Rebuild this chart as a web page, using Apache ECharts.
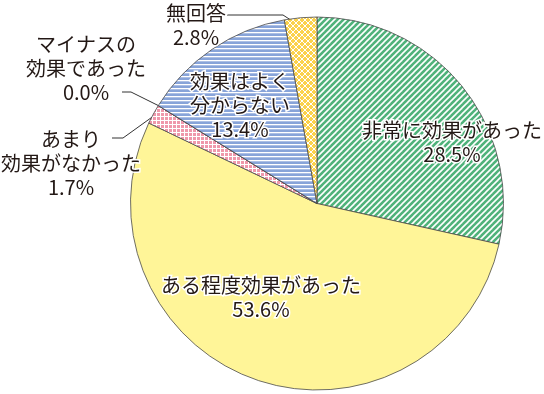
<!DOCTYPE html>
<html><head><meta charset="utf-8">
<script src="https://cdn.jsdelivr.net/npm/echarts@6/dist/echarts.min.js"></script>
<style>html,body{margin:0;padding:0;background:#fff}#c{width:544px;height:394px}</style>
</head><body><div id="c"></div>
<script>
const categories = ['非常に効果があった','ある程度効果があった','あまり\n効果がなかった','マイナスの\n効果であった','効果はよく\n分からない','無回答'];
const values = [28.5, 53.6, 1.7, 0.0, 13.4, 2.8];

// layout (pixels)
const CX = 317, CY = 203.5, R = 186.5;
const labelPos = [[452,142],[261,297],[71,163],[86,68.5],[240,105],[196,25]];
const leader = [null, null, {elbow:[123,138], end:[112,138], rf:0.99}, {elbow:[131,92], end:[122,92], rf:1.0}, null, {elbow:[283,15], end:[227,15], rf:0.95}];

function tile(w,h,draw){const c=document.createElement('canvas');c.width=w;c.height=h;const g=c.getContext('2d');draw(g,w,h);return c;}
const pGreen = tile(6,6,(g,w,h)=>{g.fillStyle='#4fb27a';g.fillRect(0,0,w,h);g.strokeStyle='#fff';g.lineWidth=1.6;
  [[-6,0],[0,0],[6,0]].forEach(([ox])=>{g.beginPath();g.moveTo(ox-1,h+1);g.lineTo(ox+w+1,-1);g.stroke();});});
const pBlue = tile(4,4,(g,w,h)=>{g.fillStyle='#88a4d9';g.fillRect(0,0,w,h);g.fillStyle='#fff';g.fillRect(0,0,w,1.3);});
const pPink = tile(4,4,(g,w,h)=>{g.fillStyle='#ef98ab';g.fillRect(0,0,w,h);g.fillStyle='#fff';g.fillRect(0,0,w,1);g.fillRect(0,0,1,h);});
const pGold = tile(6,6,(g,w,h)=>{g.fillStyle='#fff';g.fillRect(0,0,w,h);g.fillStyle='#fbd24c';
  const plus=(cx,cy)=>{[-6,0,6].forEach(ox=>[-6,0,6].forEach(oy=>{g.fillRect(cx-2+ox,cy-1+oy,4,2);g.fillRect(cx-1+ox,cy-2+oy,2,4);}));};
  plus(2,2);plus(5,5);});
const fills = [{image:pGreen,repeat:'repeat'}, '#fff598', {image:pPink,repeat:'repeat'}, {image:pPink,repeat:'repeat'}, {image:pBlue,repeat:'repeat'}, {image:pGold,repeat:'repeat'}];

const total = values.reduce((a,b)=>a+b,0);
const midFrac = []; let acc=0;
values.forEach(v=>{midFrac.push((acc+v/2)/total); acc+=v;});

const data = categories.map((n,i)=>({
  name:n, value:values[i],
  itemStyle:{color:fills[i]},
  labelLine:{show: !!leader[i]}
}));

const chart = echarts.init(document.getElementById('c'), null, {renderer:'canvas'});
chart.setOption({
  animation:false,
  series:[{
    type:'pie', center:[CX,CY], radius:R, startAngle:90, clockwise:true,
    avoidLabelOverlap:false, minShowLabelAngle:0,
    itemStyle:{borderColor:'#4a4a4a', borderWidth:0.8},
    emphasis:{disabled:true},
    label:{show:true, position:'outside', align:'center', verticalAlign:'middle',
      fontFamily:'"Noto Sans CJK JP"', fontSize:20, lineHeight:24, color:'#231815',
      textBorderColor:'#fff', textBorderWidth:3,
      formatter:p=>p.name+'\n'+p.value.toFixed(1)+'%'},
    labelLine:{lineStyle:{color:'#333', width:1}},
    labelLayout:function(params){
      const i = params.dataIndex;
      const out = {x:labelPos[i][0], y:labelPos[i][1], align:'center', verticalAlign:'middle'};
      const L = leader[i];
      if (L) {
        const th = midFrac[i]*2*Math.PI;
        const r = R*L.rf;
        out.labelLinePoints = [[CX + r*Math.sin(th), CY - r*Math.cos(th)], L.elbow, L.end];
      }
      return out;
    },
    data:data
  }]
});
</script></body></html>
